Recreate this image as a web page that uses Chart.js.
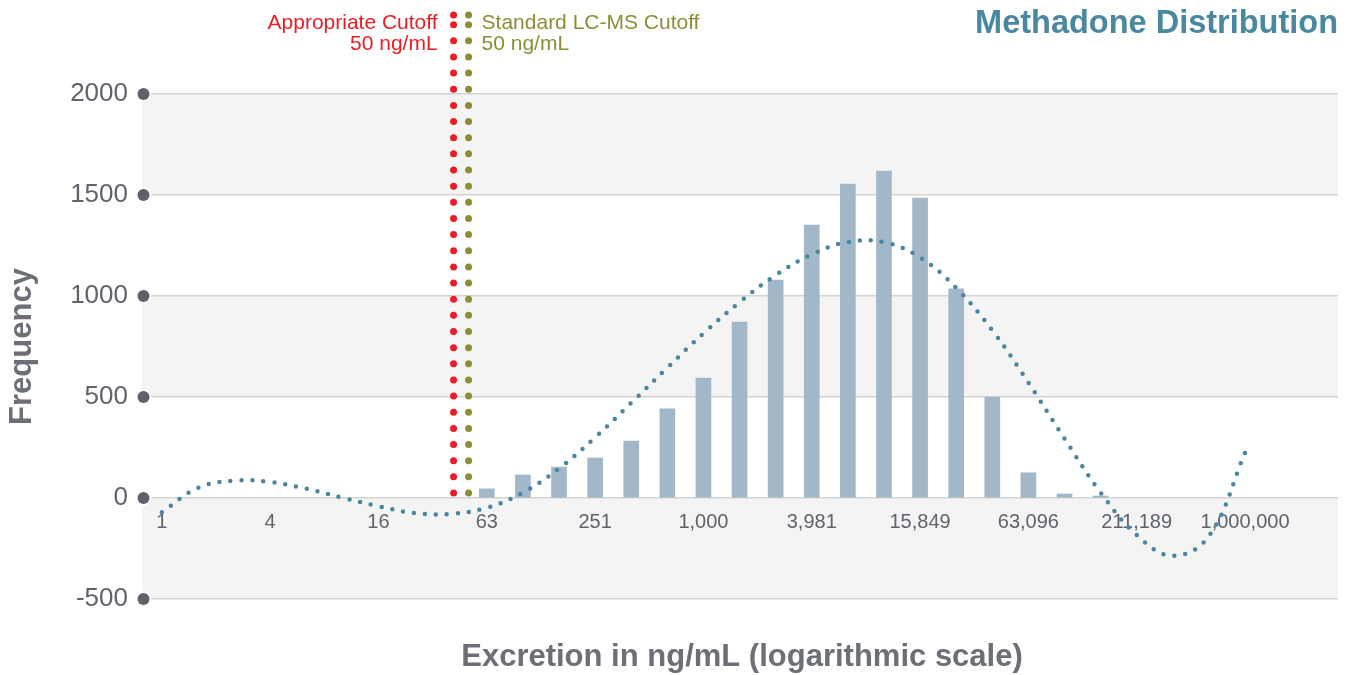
<!DOCTYPE html>
<html>
<head>
<meta charset="utf-8">
<script src="https://cdn.jsdelivr.net/npm/chart.js@4.4.1/dist/chart.umd.min.js"></script>
<style>
  html, body { margin: 0; padding: 0; background: #ffffff; }
  #wrap { width: 1354px; height: 675px; position: relative; }
</style>
</head>
<body>
<div id="wrap"><canvas id="c" width="1354" height="675"></canvas></div>
<script>
// ---------- data ----------
const tickExponents = [0, 0.6, 1.2, 1.8, 2.4, 3.0, 3.6, 4.2, 4.8, 5.4, 6.0];
const tickLabels = ['1', '4', '16', '63', '251', '1,000', '3,981', '15,849', '63,096', '211,189', '1,000,000'];

const binExponents = [1.8, 2.0, 2.2, 2.4, 2.6, 2.8, 3.0, 3.2, 3.4, 3.6, 3.8, 4.0, 4.2, 4.4, 4.6, 4.8, 5.0, 5.2];
const binCounts    = [45, 114, 153, 198, 282, 441, 594, 871, 1079, 1351, 1554, 1619, 1485, 1035, 500, 125, 20, 10];

const fitExponents = [0, 0.2, 0.4, 0.6, 0.8, 1.0, 1.2, 1.4, 1.6, 1.8, 2.0, 2.2, 2.4, 2.6, 2.8, 3.0,
                      3.2, 3.4, 3.6, 3.8, 4.0, 4.2, 4.4, 4.6, 4.8, 5.0, 5.2, 5.4, 5.6, 5.8, 6.0];
const fitValues    = [-70, 50, 86, 79, 46, 1, -41, -75, -79, -48, 27, 146, 300, 471, 645, 815,
                      969, 1103, 1206, 1267, 1266, 1191, 1040, 830, 571, 294, 27, -183, -286, -188, 223];

const yTicks = [-500, 0, 500, 1000, 1500, 2000];

const cutoffNames  = ['Appropriate Cutoff', 'Standard LC-MS Cutoff'];
const cutoffValues = [50, 50];
const cutoffColors = ['#ec1c24', '#8e8c35'];

// ---------- styling ----------
const FONT = '"Liberation Sans", Arial, Helvetica, sans-serif';
const GRAY_TEXT = '#5f636b';
const TITLE_GRAY = '#6c6f77';

const decor = {
  id: 'decor',
  beforeDraw(chart) {
    const { ctx, chartArea: ca, scales: { y } } = chart;
    ctx.save();
    ctx.fillStyle = '#f4f4f4';
    for (let i = 0; i < yTicks.length - 1; i += 2) {
      const yTop = y.getPixelForValue(yTicks[i + 1]);
      const yBot = y.getPixelForValue(yTicks[i]);
      ctx.fillRect(ca.left, yTop, ca.right - ca.left, yBot - yTop);
    }
    ctx.restore();
  },
  afterDatasetsDraw(chart) {
    const { ctx, scales: { x, y } } = chart;
    const offsets = [-15, 0];
    const yStart = y.getPixelForValue(0) - 5;
    const yEnd = 15;
    ctx.save();
    for (let i = 0; i < cutoffValues.length; i++) {
      const px = x.getPixelForValue(Math.log10(cutoffValues[i])) + offsets[i];
      ctx.fillStyle = cutoffColors[i];
      const pts = [];
      for (let yy = yStart; yy >= yEnd + 6; yy -= 16.15) pts.push(yy);
      pts.push(yEnd);
      for (const yy of pts) {
        ctx.beginPath();
        ctx.arc(px, yy, 3.5, 0, Math.PI * 2);
        ctx.fill();
      }
      ctx.font = '21px ' + FONT;
      ctx.textBaseline = 'alphabetic';
      if (i === 0) {
        ctx.textAlign = 'right';
        ctx.fillText(cutoffNames[i], px - 16, 29);
        ctx.fillText(cutoffValues[i] + ' ng/mL', px - 16, 50);
      } else {
        ctx.textAlign = 'left';
        ctx.fillText(cutoffNames[i], px + 13, 29);
        ctx.fillText(cutoffValues[i] + ' ng/mL', px + 13, 50);
      }
    }
    ctx.restore();
  },
  afterDraw(chart) {
    const { ctx, chartArea: ca, scales: { y } } = chart;
    ctx.save();
    for (const t of y.ticks) {
      const py = y.getPixelForValue(t.value);
      ctx.beginPath();
      ctx.arc(ca.left + 1.5, py, 8, 0, Math.PI * 2);
      ctx.fillStyle = '#ffffff';
      ctx.fill();
      ctx.beginPath();
      ctx.arc(ca.left + 1.5, py, 6, 0, Math.PI * 2);
      ctx.fillStyle = '#5d6169';
      ctx.fill();
    }
    ctx.font = 'bold 31px ' + FONT;
    ctx.fillStyle = TITLE_GRAY;
    ctx.textAlign = 'center';
    ctx.textBaseline = 'middle';
    ctx.fillText('Excretion in ng/mL (logarithmic scale)', (ca.left + ca.right) / 2 + 2, ca.bottom + 58);
    ctx.restore();
  }
};

new Chart(document.getElementById('c'), {
  type: 'bar',
  data: {
    datasets: [
      {
        type: 'line',
        label: 'Fit',
        data: fitExponents.map((e, i) => ({ x: e, y: fitValues[i] })),
        borderColor: '#4a86a1',
        borderWidth: 4.5,
        borderDash: [0, 11],
        borderCapStyle: 'round',
        pointRadius: 0,
        tension: 0.4,
        fill: false,
        order: 0
      },
      {
        type: 'bar',
        label: 'Frequency',
        data: binExponents.map((e, i) => ({ x: e, y: binCounts[i] })),
        backgroundColor: '#a2b8c9',
        borderWidth: 0,
        barThickness: 15,
        grouped: false,
        order: 1
      }
    ]
  },
  options: {
    responsive: false,
    animation: false,
    devicePixelRatio: 1,
    layout: { padding: { top: 0, right: 16, bottom: 76, left: 0 } },
    plugins: {
      legend: { display: false },
      tooltip: { enabled: false },
      title: {
        display: true,
        text: 'Methadone Distribution',
        align: 'end',
        color: '#4a87a1',
        font: { family: FONT, size: 32.5, weight: 'bold' },
        padding: { top: 5, bottom: 50 }
      }
    },
    scales: {
      x: {
        type: 'linear',
        offset: false,
        min: -0.11,
        max: 6.515,
        position: { y: 0 },
        afterBuildTicks: s => { s.ticks = tickExponents.map(v => ({ value: v })); },
        afterFit: s => { s.height = 0; },
        grid: { display: false, drawTicks: false, offset: false },
        border: { display: false },
        ticks: {
          autoSkip: false,
          maxRotation: 0,
          padding: 12,
          color: GRAY_TEXT,
          font: { family: FONT, size: 20 },
          callback: (v, i) => tickLabels[i]
        }
      },
      y: {
        type: 'linear',
        min: -500,
        max: 2000,
        afterBuildTicks: s => { s.ticks = yTicks.map(v => ({ value: v })); },
        afterFit: s => { s.width = 142; },
        grid: { color: '#d3d3d3', lineWidth: 1.5, drawTicks: false },
        border: { display: false },
        ticks: {
          padding: 14,
          color: GRAY_TEXT,
          font: { family: FONT, size: 26 },
          callback: v => String(v)
        },
        title: {
          display: true,
          text: 'Frequency',
          color: TITLE_GRAY,
          font: { family: FONT, size: 31, weight: 'bold' },
          padding: { top: 4, bottom: 0 }
        }
      }
    }
  },
  plugins: [decor]
});
</script>
</body>
</html>
